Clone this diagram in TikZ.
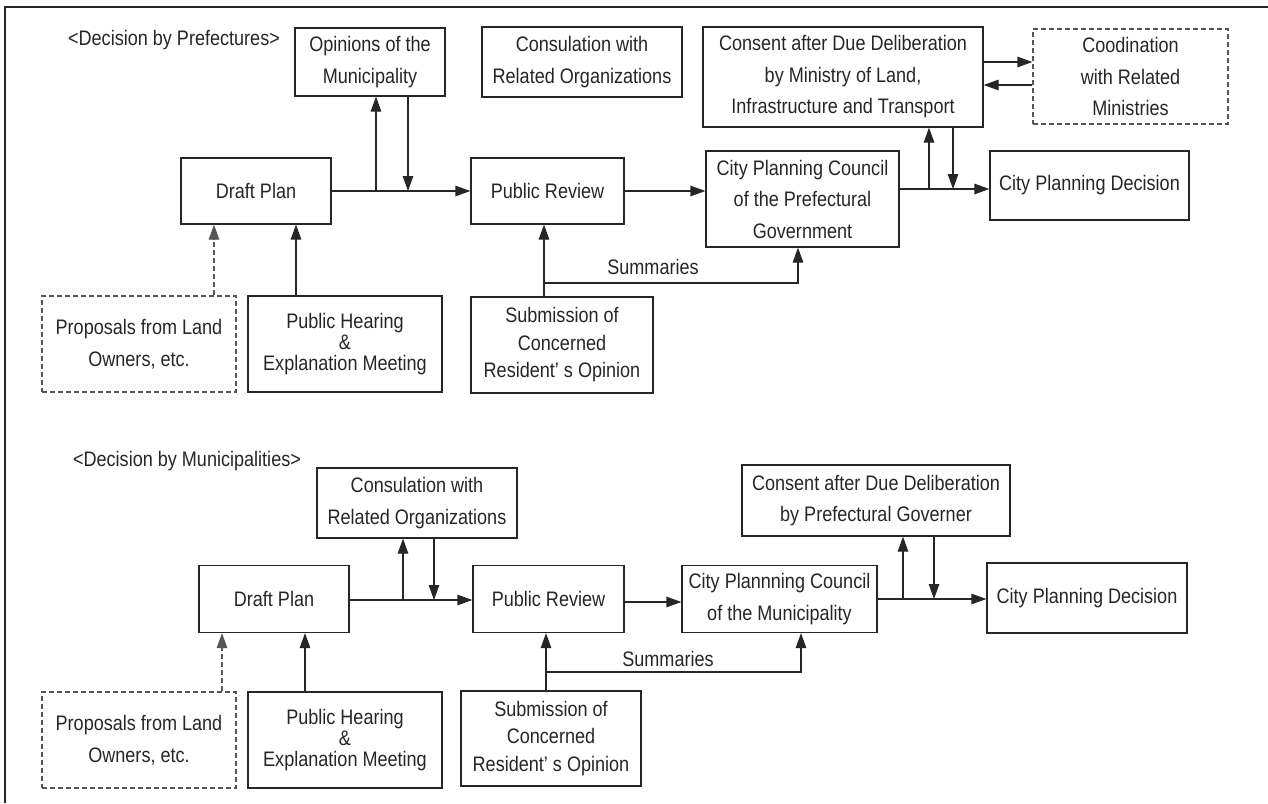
\documentclass[tikz,border=0pt]{standalone}
\usepackage{fontspec}
\setmainfont{Liberation Sans}[FakeStretch=0.86]
\usetikzlibrary{arrows.meta}
\definecolor{ink}{HTML}{262626}
\definecolor{dashink}{HTML}{555555}
\begin{document}
\begin{tikzpicture}[x=1pt,y=-1pt,
  box/.style={draw=ink,line width=1.2pt,inner sep=0pt,align=center,text=ink,
    font=\fontsize{21}{31.5}\selectfont},
  dbox/.style={box,draw=dashink,dash pattern=on 5pt off 3pt},
  arr/.style={draw=ink,line width=1.2pt,-{Triangle[length=15pt,width=10.5pt]}},
  darr/.style={arr,draw=dashink,dash pattern=on 5pt off 3pt},
  lin/.style={draw=ink,line width=1.2pt},
  lab/.style={text=ink,inner sep=0pt,font=\fontsize{21}{24}\selectfont}]
\useasboundingbox (0,0) rectangle (1268,803);
\draw[lin] (5,803) -- (5,7) -- (1268,7);
% ---------- top: Decision by Prefectures ----------
\node[lab] (t1) at (174,40) {<Decision by Prefectures>};
\node[box,minimum width=150pt,minimum height=68pt] (op1) at (370,62) {Opinions of the\\Municipality};
\node[box,minimum width=200pt,minimum height=70pt] (cs1) at (582,62) {Consulation with\\Related Organizations};
\node[box,minimum width=280pt,minimum height=100pt] (ct1) at (843,77) {Consent after Due Deliberation\\by Ministry of Land,\\Infrastructure and Transport};
\node[dbox,minimum width=195pt,minimum height=95pt] (cd1) at (1130.5,76.5) {Coodination\\with Related\\Ministries};
\node[box,minimum width=150pt,minimum height=66pt] (dp1) at (256,191) {Draft Plan};
\node[box,minimum width=153pt,minimum height=66pt] (pr1) at (547.5,191) {Public Review};
\node[box,minimum width=193pt,minimum height=96pt] (cc1) at (802.5,199) {City Planning Council\\of the Prefectural\\Government};
\node[box,minimum width=199pt,minimum height=69pt] (de1) at (1089.5,185.5) {City Planning Decision};
\node[dbox,minimum width=194pt,minimum height=96pt] (pp1) at (139,344) {Proposals from Land\\Owners, etc.};
\node[box,minimum width=194pt,minimum height=96pt,font=\fontsize{21}{21}\selectfont] (ph1) at (345,344) {Public Hearing\\\&\\Explanation Meeting};
\node[box,minimum width=182pt,minimum height=96pt,font=\fontsize{21}{27.5}\selectfont] (sb1) at (562,345) {Submission of\\Concerned\\Resident’ s Opinion};
\coordinate (ja1) at (376,191);
\coordinate (jb1) at (408,191);
\coordinate (jc1) at (929,189);
\coordinate (jd1) at (953,189);
\coordinate (s1) at (544,283);
\draw[arr] (dp1) -- (pr1);
\draw[arr] (ja1) -- (ja1 |- op1.south);
\draw[arr] (jb1 |- op1.south) -- (jb1);
\draw[arr] (pr1.east) -- (pr1.east -| cc1.west);
\draw[arr] (cc1.east |- jc1) -- (de1.west |- jc1);
\draw[arr] (jc1) -- (jc1 |- ct1.south);
\draw[arr] (jd1 |- ct1.south) -- (jd1);
\draw[arr] (ct1.east |- 0,62) -- (cd1.west |- 0,62);
\draw[arr] (cd1.west |- 0,85) -- (ct1.east |- 0,85);
\draw[darr] (pp1.north -| 214,0) -- (dp1.south -| 214,0);
\draw[arr] (ph1.north -| 296,0) -- (dp1.south -| 296,0);
\draw[arr] (sb1.north -| s1) -- (pr1.south -| s1);
\draw[arr] (s1) -| (cc1.south -| 798,0);
\node[lab] (sm1) at (653,267) {Summaries};
% ---------- bottom: Decision by Municipalities ----------
\node[lab] (t2) at (187,461) {<Decision by Municipalities>};
\node[box,minimum width=200pt,minimum height=70pt] (cs2) at (417,503) {Consulation with\\Related Organizations};
\node[box,minimum width=268pt,minimum height=71pt] (ct2) at (876,500.5) {Consent after Due Deliberation\\by Prefectural Governer};
\node[box,minimum width=150pt,minimum height=67pt] (dp2) at (274,599) {Draft Plan};
\node[box,minimum width=151pt,minimum height=67pt] (pr2) at (548.5,599) {Public Review};
\node[box,minimum width=195pt,minimum height=67pt] (cc2) at (779.5,599) {City Plannning Council\\of the Municipality};
\node[box,minimum width=200pt,minimum height=70pt] (de2) at (1087,598) {City Planning Decision};
\node[dbox,minimum width=194pt,minimum height=96pt] (pp2) at (139,740) {Proposals from Land\\Owners, etc.};
\node[box,minimum width=194pt,minimum height=96pt,font=\fontsize{21}{21}\selectfont] (ph2) at (345,740) {Public Hearing\\\&\\Explanation Meeting};
\node[box,minimum width=180pt,minimum height=95pt,font=\fontsize{21}{27.5}\selectfont] (sb2) at (551,738.5) {Submission of\\Concerned\\Resident’ s Opinion};
\coordinate (ja2) at (403,600);
\coordinate (jb2) at (434,600);
\coordinate (jc2) at (903,599);
\coordinate (jd2) at (934,599);
\coordinate (s2) at (546,672);
\draw[arr] (dp2.east |- ja2) -- (pr2.west |- ja2);
\draw[arr] (ja2) -- (ja2 |- cs2.south);
\draw[arr] (jb2 |- cs2.south) -- (jb2);
\draw[arr] (pr2.east |- 0,602) -- (cc2.west |- 0,602);
\draw[arr] (cc2.east |- jc2) -- (de2.west |- jc2);
\draw[arr] (jc2) -- (jc2 |- ct2.south);
\draw[arr] (jd2 |- ct2.south) -- (jd2);
\draw[darr] (pp2.north -| 222,0) -- (dp2.south -| 222,0);
\draw[arr] (ph2.north -| 305,0) -- (dp2.south -| 305,0);
\draw[arr] (sb2.north -| s2) -- (pr2.south -| s2);
\draw[arr] (s2) -| (cc2.south -| 801,0);
\node[lab] (sm2) at (668,659) {Summaries};
\end{tikzpicture}
\end{document}
